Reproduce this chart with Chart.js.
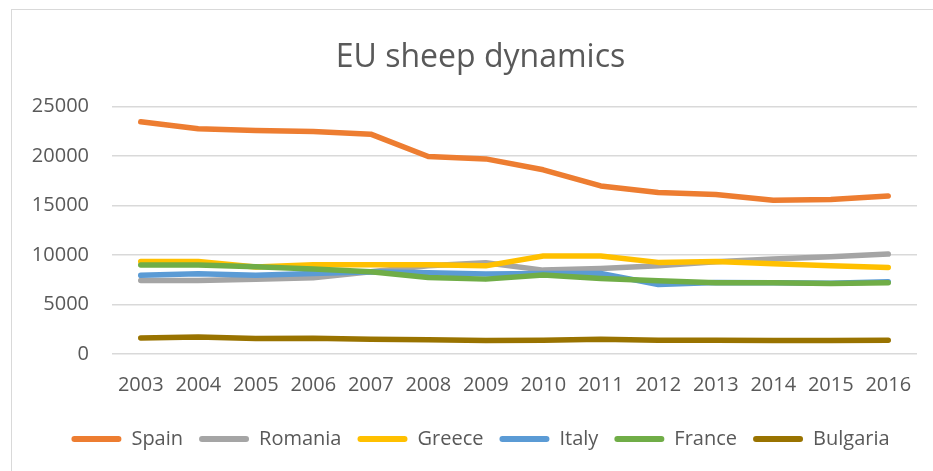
<!DOCTYPE html>
<html>
<head>
<meta charset="utf-8">
<script src="https://cdn.jsdelivr.net/npm/chart.js@4/dist/chart.umd.min.js"></script>
<style>
    html, body { margin: 0; padding: 0; background: #fff; overflow: hidden; }
    #frame { position: absolute; left: 11px; top: 9px; width: 1000px; height: 1000px; border: 1.5px solid #d9d9d9; box-sizing: border-box; }
    #wrap { position: absolute; left: 0; top: 0; width: 933px; height: 471px; }
</style>
</head>
<body>
<div id="frame"></div>
<div id="wrap"><canvas id="sheepChart"></canvas></div>
<script>
(function () {
    // 年次
    const years = ['2003', '2004', '2005', '2006', '2007', '2008', '2009', '2010', '2011', '2012', '2013', '2014', '2015', '2016'];
    const spain = [23450, 22740, 22570, 22470, 22200, 19940, 19700, 18600, 16970, 16300, 16100, 15530, 15590, 15960];
    const romania = [7430, 7430, 7560, 7690, 8300, 8900, 9210, 8470, 8640, 8900, 9310, 9590, 9820, 10090];
    const greece = [9350, 9330, 8780, 9020, 9000, 9000, 8900, 9890, 9890, 9250, 9350, 9110, 8900, 8740];
    const italy = [7940, 8100, 7940, 8140, 8300, 8200, 8070, 8140, 8140, 7020, 7230, 7200, 7150, 7290];
    const france = [8980, 8980, 8800, 8570, 8300, 7730, 7560, 7970, 7630, 7390, 7190, 7190, 7120, 7190];
    const bulgaria = [1620, 1720, 1560, 1590, 1490, 1430, 1370, 1390, 1490, 1390, 1380, 1370, 1370, 1390];
    const yTicks = [0, 5000, 10000, 15000, 20000, 25000];

    const font = '"Open Sans", "Noto Sans", sans-serif';
    const textColor = '#595959';

    function series(label, data, color, order) {
        return {
            label: label,
            data: data,
            borderColor: color,
            backgroundColor: color,
            borderWidth: 5.5,
            borderCapStyle: 'round',
            borderJoinStyle: 'round',
            pointRadius: 0,
            tension: 0,
            order: order
        };
    }

    // タイトルと凡例を枠の中央に寄せる
    const centerInFrame = {
        id: 'centerInFrame',
        afterLayout: function (chart) {
            if (chart.titleBlock) { chart.titleBlock.left = 44; }
            if (chart.legend) { chart.legend.left = 44; }
        }
    };

    const ctx = document.getElementById('sheepChart').getContext('2d');
    new Chart(ctx, {
        type: 'line',
        data: {
            labels: years,
            datasets: [
                series('Spain', spain, '#ED7D31', 6),
                series('Romania', romania, '#A5A5A5', 5),
                series('Greece', greece, '#FFC000', 4),
                series('Italy', italy, '#5B9BD5', 3),
                series('France', france, '#70AD47', 2),
                series('Bulgaria', bulgaria, '#997300', 1)
            ]
        },
        plugins: [centerInFrame],
        options: {
            responsive: true,
            maintainAspectRatio: false,
            animation: false,
            layout: { padding: { left: 26, right: 16, top: 0, bottom: 12 } },
            plugins: {
                title: {
                    display: true,
                    text: 'EU sheep dynamics',
                    color: textColor,
                    font: { family: font, size: 32, weight: 'normal' },
                    padding: { top: 39, bottom: 29 }
                },
                legend: {
                    position: 'bottom',
                    labels: {
                        color: textColor,
                        font: { family: font, size: 20 },
                        boxWidth: 50,
                        boxHeight: 6,
                        useBorderRadius: true,
                        borderRadius: 3,
                        padding: 16,
                        sort: function (a, b) { return a.datasetIndex - b.datasetIndex; },
                        generateLabels: function (chart) {
                            const items = Chart.defaults.plugins.legend.labels.generateLabels(chart);
                            items.forEach(function (item) { item.lineWidth = 0; });
                            return items;
                        }
                    }
                },
                tooltip: { enabled: false }
            },
            scales: {
                x: {
                    offset: true,
                    grid: { display: false },
                    border: { display: false },
                    afterFit: function (scale) { scale.height = 59; },
                    ticks: { color: textColor, font: { family: font, size: 20 }, padding: 11.5, maxRotation: 0, autoSkip: false }
                },
                y: {
                    min: 0,
                    max: 25000,
                    afterBuildTicks: function (scale) {
                        scale.ticks = yTicks.map(function (v) { return { value: v }; });
                    },
                    afterFit: function (scale) { scale.width = 86; },
                    grid: { color: '#d9d9d9', lineWidth: 1.5, drawTicks: false },
                    border: { display: false },
                    ticks: {
                        color: textColor,
                        font: { family: font, size: 20 },
                        padding: 23,
                        callback: function (value) { return String(value); }
                    }
                }
            }
        }
    });
})();
</script>
</body>
</html>
